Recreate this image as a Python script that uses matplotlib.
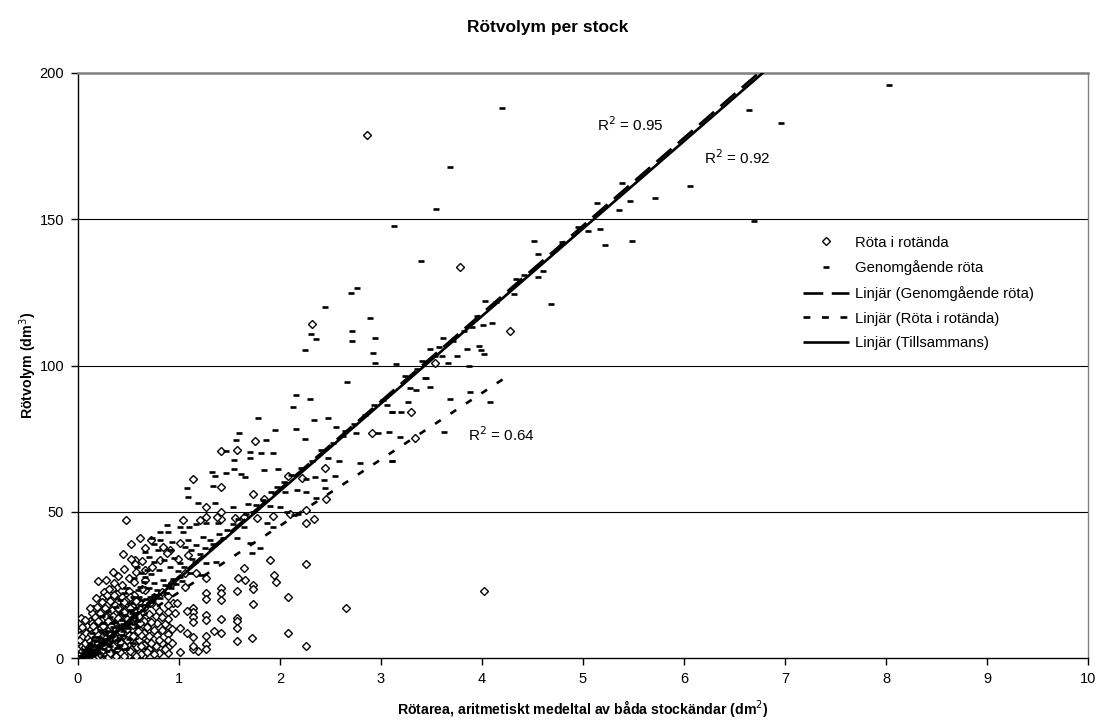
import matplotlib
matplotlib.use("Agg")
import matplotlib.pyplot as plt

plt.rcParams['font.family'] = ['Liberation Sans', 'DejaVu Sans']

# Röta i rotända (x = rötarea dm2, y = rötvolym dm3)
rot_points = [
    (2.86, 178.9), (3.78, 133.7), (2.32, 114.1), (4.28, 111.7), (3.53, 101.0),
    (3.30, 84.2), (3.34, 75.1), (4.02, 22.8), (2.91, 76.8),
    (0.48, 47.2), (1.14, 61.2), (1.42, 70.7), (1.57, 71.0), (1.75, 74.3),
    (1.42, 58.5), (1.27, 51.6), (1.42, 50.0), (1.42, 47.5), (1.73, 55.9),
    (1.84, 54.3), (1.93, 48.5), (2.22, 61.4), (2.08, 62.2), (2.45, 65.1),
    (2.46, 54.5), (2.26, 50.6), (2.34, 47.4), (2.26, 46.2), (2.10, 49.4),
    (0.61, 41.1), (0.72, 40.5), (0.66, 37.7), (0.56, 33.5), (0.56, 32.0),
    (0.20, 26.2), (0.39, 24.3), (0.26, 22.4), (0.24, 20.6), (0.15, 16.9),
    (0.03, 13.6), (1.90, 33.5), (2.26, 32.0), (1.64, 30.9), (1.94, 28.4),
    (1.96, 25.9), (1.58, 27.4), (1.65, 26.5), (1.73, 24.9), (1.73, 23.6),
    (1.57, 23.0), (1.42, 23.8), (1.42, 22.3), (1.42, 19.8), (1.27, 22.3),
    (1.27, 20.1), (1.73, 18.3), (2.08, 21.0), (2.65, 17.0), (2.08, 8.4),
    (2.26, 4.2), (1.72, 6.7), (1.57, 13.6), (1.57, 12.5), (1.57, 10.1),
    (1.57, 5.9), (1.42, 13.2), (1.42, 8.4), (1.35, 9.3), (1.27, 14.7),
    (1.27, 13.0), (1.27, 7.6), (1.27, 4.8), (1.27, 3.0), (1.19, 2.4),
    (1.14, 3.0), (1.14, 17.0), (1.14, 15.6), (1.14, 13.9), (1.14, 12.2),
    (1.08, 16.2), (1.01, 10.1), (1.01, 2.2), (1.08, 8.4), (1.14, 7.3),
    (1.14, 4.2), (0.96, 15.3), (0.94, 18.7), (0.89, 21.2), (0.89, 18.0),
    (0.89, 15.7), (0.89, 13.4), (0.89, 11.1), (0.89, 8.2), (0.89, 6.2),
    (0.89, 3.6), (0.89, 1.6), (0.80, 1.8), (0.71, 2.7), (0.78, 11.9),
    (0.78, 7.9), (0.69, 12.5), (0.69, 9.7), (0.69, 6.3), (0.71, 18.7),
    (0.75, 21.0), (0.66, 23.2), (0.66, 26.7), (0.66, 30.1), (0.93, 25.5),
    (0.98, 18.7), (1.06, 24.3), (1.06, 29.0), (1.17, 29.0), (1.27, 27.3),
    (0.91, 36.9), (0.88, 35.8), (0.73, 31.2), (0.81, 33.5), (0.99, 34.0),
    (1.09, 35.2), (1.01, 39.2), (0.84, 38.0), (1.04, 47.2), (1.21, 47.2),
    (1.27, 48.3), (1.38, 48.3), (1.55, 47.7), (1.64, 48.3), (1.77, 47.7),
    (0.02, 0.5), (0.02, 2.0), (0.02, 4.5), (0.02, 8.0), (0.04, 1.0),
    (0.05, 3.0), (0.05, 5.5), (0.06, 9.0), (0.08, 0.5), (0.08, 2.5),
    (0.08, 6.0), (0.09, 11.0), (0.11, 1.0), (0.11, 4.0), (0.11, 7.5),
    (0.12, 12.5), (0.14, 0.5), (0.14, 3.0), (0.14, 6.0), (0.14, 9.0),
    (0.14, 12.0), (0.14, 15.5), (0.19, 1.0), (0.19, 4.0), (0.19, 7.0),
    (0.19, 10.5), (0.19, 14.0), (0.19, 17.5), (0.24, 0.5), (0.24, 3.5),
    (0.24, 6.5), (0.24, 9.5), (0.24, 13.0), (0.24, 16.0), (0.24, 19.0),
    (0.29, 1.5), (0.29, 4.5), (0.29, 8.0), (0.29, 11.0), (0.29, 14.5),
    (0.29, 18.0), (0.29, 21.5), (0.34, 0.5), (0.34, 3.0), (0.34, 6.0),
    (0.34, 9.5), (0.34, 13.0), (0.34, 16.5), (0.34, 20.0), (0.34, 23.5),
    (0.39, 1.5), (0.39, 5.0), (0.39, 8.5), (0.39, 12.0), (0.39, 15.5),
    (0.39, 19.0), (0.39, 22.0), (0.44, 0.5), (0.44, 3.5), (0.44, 7.0),
    (0.44, 10.5), (0.44, 14.0), (0.44, 17.5), (0.44, 21.0), (0.44, 25.0),
    (0.50, 1.0), (0.50, 4.5), (0.50, 8.0), (0.50, 11.5), (0.50, 15.0),
    (0.50, 19.0), (0.50, 23.0), (0.50, 27.5), (0.55, 1.5), (0.55, 5.0),
    (0.55, 9.0), (0.55, 13.0), (0.55, 17.0), (0.55, 21.5), (0.55, 26.0),
    (0.60, 2.5), (0.60, 6.0), (0.60, 10.0), (0.60, 14.5), (0.60, 19.0),
    (0.65, 1.0), (0.65, 4.5), (0.65, 8.5), (0.65, 12.5), (0.65, 17.0),
    (0.70, 3.0), (0.70, 7.5), (0.70, 15.0), (0.77, 4.0), (0.77, 14.5),
    (0.77, 17.5), (0.83, 5.0), (0.83, 9.5), (0.83, 14.0), (0.83, 22.5),
    (0.40, 28.0), (0.36, 25.5), (0.31, 23.5), (0.46, 30.5), (0.52, 34.0),
    (0.01, 1.2), (0.03, 3.2), (0.03, 6.0), (0.04, 10.5), (0.06, 1.8),
    (0.06, 4.2), (0.07, 7.2), (0.09, 1.4), (0.09, 3.8), (0.10, 5.5),
    (0.10, 9.0), (0.12, 2.2), (0.13, 4.8), (0.13, 10.0), (0.16, 1.6),
    (0.16, 4.5), (0.16, 7.8), (0.17, 11.5), (0.17, 14.0), (0.21, 2.2),
    (0.21, 5.5), (0.21, 8.5), (0.21, 12.0), (0.22, 15.5), (0.26, 1.8),
    (0.26, 5.0), (0.26, 8.0), (0.27, 11.5), (0.27, 17.0), (0.31, 2.8),
    (0.31, 6.2), (0.31, 9.5), (0.32, 13.0), (0.32, 19.5), (0.36, 1.8),
    (0.36, 4.8), (0.36, 7.5), (0.37, 11.0), (0.37, 15.0), (0.37, 18.0),
    (0.41, 3.2), (0.41, 6.8), (0.42, 10.0), (0.42, 13.8), (0.42, 17.0),
    (0.47, 2.0), (0.47, 5.6), (0.47, 9.2), (0.48, 12.8), (0.48, 16.5),
    (0.48, 20.0), (0.52, 3.0), (0.52, 6.5), (0.53, 10.0), (0.53, 13.5),
    (0.53, 17.8), (0.58, 3.8), (0.58, 7.8), (0.58, 12.0), (0.58, 16.0),
    (0.62, 1.2), (0.62, 4.2), (0.62, 8.0), (0.63, 23.5), (0.68, 2.2),
    (0.68, 10.5), (0.72, 5.2), (0.72, 12.2), (0.75, 1.2), (0.75, 9.5),
    (0.80, 6.0), (0.80, 16.0), (0.86, 3.0), (0.86, 11.5), (0.93, 5.0),
    (0.93, 9.8), (0.28, 26.5), (0.18, 20.5), (0.12, 17.0), (0.07, 13.0),
    (0.57, 29.5), (0.63, 33.0), (0.35, 29.5), (0.45, 35.5), (0.52, 39.0),
    (0.01, 0.2), (0.01, 3.0), (0.02, 6.2), (0.03, 1.5), (0.04, 2.4),
    (0.04, 4.0), (0.05, 0.4), (0.05, 7.4), (0.07, 0.9), (0.07, 3.6),
    (0.07, 5.2), (0.08, 8.4), (0.10, 0.3), (0.10, 2.6), (0.10, 7.0),
    (0.12, 0.7), (0.12, 5.8), (0.13, 8.2), (0.15, 2.0), (0.15, 5.0),
    (0.15, 10.8), (0.17, 0.4), (0.17, 3.4), (0.17, 6.4), (0.18, 9.2),
    (0.20, 0.6), (0.20, 5.2), (0.20, 8.0), (0.20, 12.8), (0.22, 1.4),
    (0.22, 3.8), (0.23, 10.4), (0.25, 2.6), (0.25, 7.6), (0.25, 11.0),
    (0.27, 0.8), (0.27, 4.0), (0.28, 6.8), (0.28, 14.0), (0.30, 0.4),
    (0.30, 3.2), (0.30, 12.6), (0.32, 1.6), (0.32, 7.8), (0.33, 10.8),
    (0.35, 4.2), (0.35, 14.2), (0.36, 21.5), (0.38, 0.6), (0.38, 6.6),
    (0.38, 9.8), (0.40, 2.6), (0.40, 13.6), (0.40, 17.2), (0.43, 1.8),
    (0.43, 5.2), (0.43, 8.8), (0.43, 12.2), (0.46, 0.8), (0.46, 4.0),
    (0.46, 15.6), (0.46, 19.0), (0.49, 6.2), (0.49, 9.8), (0.49, 13.2),
    (0.51, 2.4), (0.51, 17.0), (0.51, 21.0), (0.54, 7.6), (0.54, 11.2),
    (0.57, 0.6), (0.57, 19.6), (0.59, 9.4), (0.61, 12.0), (0.61, 16.6),
]

# Genomgående röta
gen_points = [
    (8.03, 195.8), (6.64, 187.4), (6.96, 182.8), (6.06, 161.3), (5.71, 157.3),
    (5.39, 162.5), (5.47, 156.4), (5.14, 155.7), (5.36, 153.0), (6.69, 149.3),
    (5.05, 145.9), (5.17, 146.5), (5.22, 141.3), (5.49, 142.7),
    (4.20, 188.1), (3.68, 167.7), (3.54, 153.6), (3.13, 147.8), (3.40, 135.6),
    (2.76, 126.5), (2.70, 124.7), (2.45, 119.9), (2.89, 116.1), (2.71, 111.8),
    (2.31, 110.6), (2.36, 109.1), (2.71, 108.5), (2.94, 109.3), (2.25, 105.2),
    (2.92, 104.2), (2.94, 100.9), (3.15, 100.5), (4.51, 142.4), (4.55, 138.0),
    (4.60, 132.4), (4.55, 130.3), (4.68, 121.0), (4.34, 129.5), (4.32, 124.6),
    (4.03, 122.1), (3.95, 116.9), (4.01, 113.8), (4.10, 114.7), (3.82, 111.9),
    (3.61, 109.5), (3.85, 105.8), (3.75, 103.4), (3.97, 106.8), (3.99, 105.3),
    (4.02, 104.0), (3.49, 105.5), (3.57, 106.4), (3.60, 103.2), (3.41, 101.5),
    (3.66, 100.9), (3.87, 99.8), (3.45, 95.6),
    (3.44, 95.6), (3.49, 92.7), (3.29, 92.2), (3.35, 91.6), (3.68, 88.7),
    (3.88, 91.0), (4.08, 87.6), (3.27, 87.4), (3.11, 84.2), (3.20, 84.0),
    (3.19, 75.6), (3.62, 77.4), (3.11, 67.2),
    (2.66, 94.4), (2.16, 89.9), (2.30, 88.4), (2.13, 85.7), (3.06, 86.6),
    (3.11, 84.0), (1.78, 82.1), (2.34, 81.3), (2.48, 82.1), (2.16, 78.2),
    (1.95, 77.9), (1.59, 76.8), (2.55, 79.1), (2.64, 77.5), (2.75, 76.8),
    (2.97, 76.8), (3.08, 77.2), (2.25, 74.8), (1.56, 74.5), (1.86, 74.4),
    (1.47, 70.7), (1.70, 70.3), (1.81, 70.0), (1.93, 70.2), (1.54, 67.7),
    (1.70, 68.3), (2.48, 68.3), (2.58, 67.3), (2.79, 66.6), (3.11, 67.3),
    (1.98, 64.7), (1.84, 64.3), (1.33, 63.7), (1.54, 64.5), (1.36, 62.2),
    (1.61, 62.8), (1.65, 62.0), (1.47, 63.1), (2.26, 61.2), (2.35, 61.8),
    (2.44, 60.8), (2.54, 62.2), (1.08, 58.0), (1.34, 58.8), (1.09, 54.9),
    (1.19, 52.9), (2.05, 56.6), (2.17, 57.4), (2.36, 54.8), (2.26, 56.6),
    (2.45, 58.0), (1.53, 51.7), (1.68, 52.6), (1.36, 53.1), (1.73, 50.0),
    (1.90, 52.1), (2.00, 51.7), (2.07, 50.0), (2.14, 48.9), (2.18, 49.4),
    (0.88, 45.5), (1.01, 44.9), (1.10, 44.9), (0.89, 43.0), (1.04, 43.0),
    (0.81, 43.0), (1.17, 45.8), (1.27, 46.2), (1.39, 46.0), (1.53, 45.8),
    (1.64, 44.9), (1.87, 46.2), (1.93, 44.9), (1.24, 41.5), (1.09, 40.3),
    (0.73, 40.9), (0.81, 40.3), (0.75, 39.0), (0.93, 39.7), (0.66, 36.3),
    (0.79, 36.9), (0.91, 36.9), (1.06, 38.0), (1.17, 38.6), (1.31, 40.3),
    (1.44, 40.9), (1.57, 40.9), (1.70, 39.2), (1.80, 37.5), (1.72, 35.8),
    (0.75, 32.9), (0.58, 31.2), (0.68, 30.1), (0.80, 30.1), (0.91, 31.2),
    (1.01, 32.4), (1.16, 32.9), (1.27, 32.4), (1.37, 32.9), (0.55, 27.2),
    (0.48, 23.8), (0.61, 24.4), (0.75, 25.5), (0.84, 26.7), (1.01, 27.8),
    (1.11, 29.0), (1.22, 28.4), (0.42, 19.8), (0.38, 17.5), (0.51, 18.7),
    (0.63, 19.8), (0.75, 21.5), (0.32, 14.1), (0.25, 11.9), (0.22, 9.6),
    (0.17, 7.3), (0.12, 5.0), (0.09, 3.3), (0.05, 1.6), (0.42, 15.3),
    (0.51, 16.4), (0.03, 0.8), (0.07, 2.1), (0.10, 3.0), (0.14, 4.6),
    (0.19, 5.8), (0.21, 7.1), (0.27, 8.3), (0.30, 9.2), (0.35, 10.6),
    (0.37, 12.4), (0.44, 13.1), (0.47, 14.6), (0.53, 15.4), (0.57, 17.2),
    (0.62, 18.1), (0.67, 20.3), (0.71, 20.9), (0.78, 23.1), (0.86, 24.8),
    (0.94, 27.1), (0.99, 29.6), (1.05, 31.2), (1.13, 33.8), (1.21, 35.4),
    (1.26, 37.6), (1.34, 39.1), (1.40, 42.3), (1.48, 43.6), (1.58, 47.4),
    (1.66, 49.1), (1.76, 52.4), (1.83, 54.1), (1.91, 56.8), (1.97, 58.3),
    (2.04, 60.2), (2.11, 62.5), (2.21, 65.1), (2.32, 67.4), (2.41, 71.2),
    (2.52, 73.6), (2.62, 75.8), (2.73, 80.1), (2.84, 83.2), (2.93, 86.4),
    (3.02, 88.1), (3.24, 96.3), (3.36, 98.7), (3.53, 103.1), (3.71, 108.4),
    (3.90, 113.2), (4.14, 121.6), (4.42, 130.8), (4.79, 142.1), (4.95, 147.2),
    (0.14, 1.5), (0.14, 8.5), (0.19, 2.5), (0.24, 4.5), (0.24, 14.5),
    (0.29, 6.5), (0.34, 12.0), (0.39, 3.5), (0.44, 8.0), (0.50, 6.5),
    (0.55, 11.5), (0.60, 21.0), (0.65, 26.0), (0.70, 24.0), (0.30, 16.0),
    (0.02, 0.3), (0.04, 0.6), (0.06, 1.2), (0.08, 1.0), (0.11, 2.0),
    (0.13, 3.6), (0.16, 2.8), (0.18, 4.2), (0.20, 3.4), (0.23, 5.2),
    (0.26, 6.4), (0.28, 4.9), (0.31, 7.6), (0.33, 5.8), (0.36, 8.9),
    (0.40, 10.2), (0.41, 6.9), (0.45, 11.6), (0.49, 10.1), (0.52, 13.2),
    (0.56, 14.1), (0.59, 12.6), (0.64, 16.3), (0.69, 17.8), (0.74, 19.2),
    (0.81, 20.6), (0.87, 22.3), (0.92, 24.1), (0.97, 25.4), (1.03, 26.2),
    (0.46, 22.1), (0.54, 21.0), (0.59, 23.4), (0.66, 27.8), (0.72, 28.6),
    (0.85, 33.4), (0.95, 34.1), (1.12, 37.0), (0.70, 34.6), (0.62, 29.0),
    (0.01, 0.1), (0.03, 0.4), (0.05, 0.2), (0.06, 2.6), (0.09, 0.6),
    (0.11, 0.4), (0.12, 2.8), (0.15, 0.8), (0.16, 6.0), (0.18, 1.2),
    (0.21, 1.8), (0.22, 4.4), (0.25, 0.8), (0.26, 3.0), (0.29, 2.4),
    (0.32, 4.0), (0.34, 7.4), (0.37, 2.2), (0.39, 6.0), (0.42, 4.6),
    (0.45, 9.4), (0.48, 3.0), (0.50, 12.4), (0.54, 5.0), (0.58, 10.6),
]

# linear trendlines: (slope, intercept, x start, x end)
trend_gen = (30.0, -2.2, 0.03, 8.03)
trend_rot = (22.7, -0.2, 0.02, 4.28)
trend_all = (29.9, -2.7, 0.02, 8.03)

r2_labels = ['R$^2$ = 0.95', 'R$^2$ = 0.92', 'R$^2$ = 0.64']

rot_x, rot_y = zip(*rot_points)
gen_x, gen_y = zip(*gen_points)

fig = plt.figure(figsize=(11, 7.22), dpi=100)
ax = fig.add_axes([78 / 1100, 64 / 722, 1010 / 1100, 585 / 722])

ax.plot(rot_x, rot_y, linestyle='none', marker='D', markersize=4.0,
        markerfacecolor='white', markeredgecolor='black', markeredgewidth=1.0,
        label='Röta i rotända', zorder=3)
ax.plot(gen_x, gen_y, linestyle='none', marker='_', markersize=4,
        markeredgewidth=1.9, color='black', label='Genomgående röta', zorder=3)


def trend(t):
    k, m, x0, x1 = t
    return [x0, x1], [k * x0 + m, k * x1 + m]


xs, ys = trend(trend_gen)
ax.plot(xs, ys, color='black', lw=1.9, dashes=(7.5, 3.2),
        label='Linjär (Genomgående röta)', zorder=4)
xs, ys = trend(trend_rot)
ax.plot(xs, ys, color='black', lw=1.9, dashes=(2.6, 4.4),
        label='Linjär (Röta i rotända)', zorder=4)
xs, ys = trend(trend_all)
ax.plot(xs, ys, color='black', lw=1.9, solid_capstyle='butt',
        label='Linjär (Tillsammans)', zorder=4)

ax.text(5.14, 182.2, r2_labels[0], fontsize=11, va='center')
ax.text(6.20, 171.2, r2_labels[1], fontsize=11, va='center')
ax.text(3.86, 76.2, r2_labels[2], fontsize=11, va='center')

ax.set_xlim(0, 10)
ax.set_ylim(0, 200)
ax.set_xticks(range(0, 11))
ax.set_yticks([0, 50, 100, 150, 200])
ax.tick_params(direction='out', length=5, width=1, labelsize=10.5, pad=5)
for y in [50, 100, 150]:
    ax.axhline(y, color='black', lw=0.8, zorder=1)
ax.spines['top'].set_color('#808080')
ax.spines['top'].set_linewidth(1.8)
ax.spines['right'].set_color('#808080')
ax.spines['right'].set_linewidth(1.0)
ax.spines['left'].set_linewidth(1.0)
ax.spines['bottom'].set_linewidth(1.0)

ax.set_xlabel('Rötarea, aritmetiskt medeltal av båda stockändar (dm$^2$)',
              fontsize=10.2, fontweight='bold')
ax.xaxis.set_label_coords(0.5, -0.068)
ax.set_ylabel('Rötvolym (dm$^3$)', fontsize=10.2, fontweight='bold')
ax.yaxis.set_label_coords(-0.039, 0.5)
fig.text(0.498, 0.962, 'Rötvolym per stock', ha='center', va='center',
         fontsize=12.5, fontweight='bold')

ax.legend(loc='upper left', bbox_to_anchor=(0.718, 0.722), frameon=False,
          fontsize=10.7, handlelength=3.1, handletextpad=0.4, labelspacing=0.72,
          borderpad=0, borderaxespad=0)

fig.savefig('out.png', dpi=100)
